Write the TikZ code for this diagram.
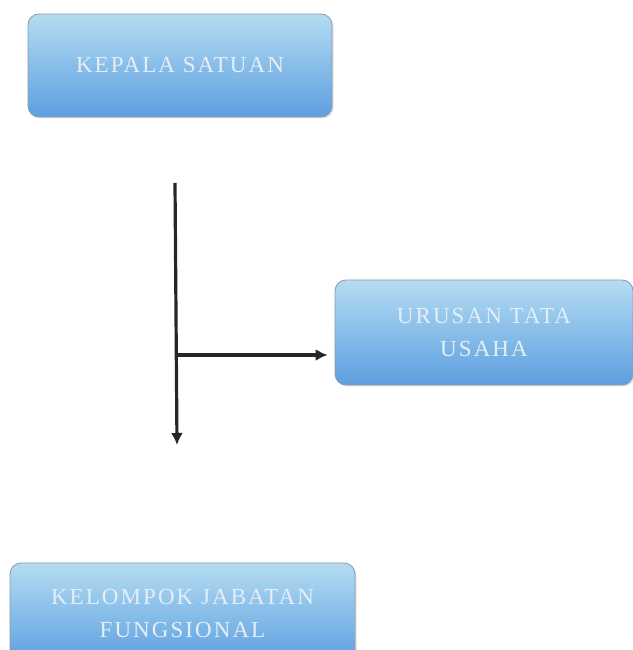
\documentclass[tikz,border=0pt]{standalone}
\usepackage{fontspec}
\setmainfont{Liberation Serif}[LetterSpace=9]
\usetikzlibrary{arrows.meta,shadows}
\definecolor{boxtop}{HTML}{B4DCF2}
\definecolor{boxbottom}{HTML}{5D9FE0}
\definecolor{boxline}{HTML}{8A9AAE}
\definecolor{boxtext}{HTML}{E4EEF6}
\tikzset{
  unit/.style={draw=boxline, line width=0.8pt, rounded corners=11pt,
    top color=boxtop, bottom color=boxbottom, text=boxtext,
    font=\fontsize{23}{33}\selectfont, align=center, inner sep=0pt,
    drop shadow={opacity=0.25, shadow xshift=1.5pt, shadow yshift=-1.5pt}},
  link/.style={line width=3.2pt, draw=black!85, -{Latex[length=12pt,width=12pt]}}
}
\begin{document}
\begin{tikzpicture}[x=1pt,y=1pt]
      \useasboundingbox (0,0) rectangle (632,650);
      \node[unit, minimum width=304, minimum height=103] (kepala) at (180,584.5) {KEPALA SATUAN};
      \node[unit, minimum width=298, minimum height=105] (urusan) at (484,317.5) {URUSAN TATA\\USAHA};
      \node[unit, minimum width=345, minimum height=100] (kelompok) at (182.5,37) {KELOMPOK JABATAN\\FUNGSIONAL};
      \coordinate (top) at (175,467);
      \coordinate (bottom) at (177,205);
      \coordinate (branch) at (176,295);
      \begin{scope}[link]
        \draw (top) to (bottom);
        \draw[shorten >=7pt] (branch) to (branch -| urusan.west);
      \end{scope}
    \end{tikzpicture}
\end{document}
